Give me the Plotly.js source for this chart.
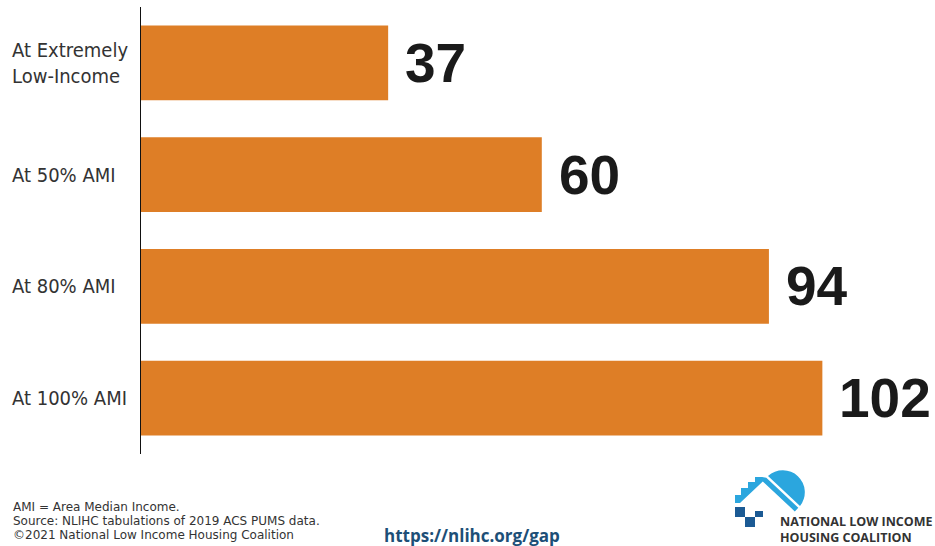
<!DOCTYPE html>
<html>
<head>
<meta charset="utf-8">
<script src="https://cdn.plot.ly/plotly-3.0.1.min.js"></script>
<style>html,body{margin:0;padding:0;background:#fff;}#chart{width:935px;height:546px;}</style>
</head>
<body>
<div id="chart"></div>
<script>
// Data
const categories = ["At Extremely<br>Low-Income", "At 50% AMI", "At 80% AMI", "At 100% AMI"];
const values = [37, 60, 94, 102];
const valueLabels = ["37", "60", "94", "102"];
const footnotes = ["AMI = Area Median Income.", "Source: NLIHC tabulations of 2019 ACS PUMS data.", "©2021 National Low Income Housing Coalition"];
const urlText = "https://nlihc.org/gap";
const orgLines = ["NATIONAL LOW INCOME", "HOUSING COALITION"];

// Layout geometry (pixels)
const W = 935, H = 546, ML = 141, MR = 0, MT = 7, MB = 92;
const PW = W - ML - MR, PH = H - MT - MB;
const px = x => (x - ML) / PW;
const py = y => (H - MB - y) / PH;

const barColor = "#DE7E26";
const labelFont = "'DejaVu Sans Condensed', 'Liberation Sans Narrow', 'Liberation Sans', Arial, sans-serif";

const trace = {
  type: "bar",
  orientation: "h",
  x: values,
  y: categories,
  marker: {color: barColor},
  width: 0.67,
  hoverinfo: "none"
};

const annotations = [];
categories.forEach((c, i) => {
  annotations.push({
    xref: "paper", yref: "y", x: 0, y: c, xanchor: "left", yanchor: "middle",
    xshift: -131, align: "left", showarrow: false, text: c,
    font: {family: labelFont, size: 20, color: "#333333"}
  });
  annotations.push({
    xref: "x", yref: "y", x: values[i], y: c, xanchor: "left", yanchor: "middle",
    xshift: 15, showarrow: false, text: "<b>" + valueLabels[i] + "</b>",
    font: {family: "'Liberation Sans', Arial, sans-serif", size: 55, color: "#1a1a1a"}
  });
});
const footY = [507, 521, 535];
footnotes.forEach((t, i) => {
  annotations.push({
    xref: "paper", yref: "paper", x: px(11), y: py(footY[i]), xanchor: "left", yanchor: "middle",
    showarrow: false, text: t, font: {family: "'DejaVu Sans', sans-serif", size: 12, color: "#333333"}
  });
});
annotations.push({
  xref: "paper", yref: "paper", x: px(382), y: py(535), xanchor: "left", yanchor: "middle",
  showarrow: false, text: "<b>" + urlText + "</b>",
  font: {family: "'Open Sans', sans-serif", size: 17, color: "#1D4F77"}
});
annotations.push({
  xref: "paper", yref: "paper", x: px(778), y: py(529.5), xanchor: "left", yanchor: "middle",
  align: "left", showarrow: false, text: "<b>" + orgLines.join("<br>") + "</b>",
  font: {family: "'Open Sans', sans-serif", size: 12.5, color: "#333333"}
});

// Logo as inline SVG (local coordinates, 84x68 box)
const logoSvg = '<svg xmlns="http://www.w3.org/2000/svg" width="84" height="68" viewBox="0 0 84 68">' +
  '<path d="M7,39 V31 H13 V24 H20 V18 H27 V13 H34 L38.3,13.8 L70.3,43.8 L66.8,47.4 L34.8,17.4 L12,39 Z" fill="#2BA6DE"/>' +
  '<path d="M40,12 A22,22 0 0 1 72,42 Z" fill="#2BA6DE"/>' +
  '<rect x="7" y="43" width="10" height="10" fill="#1B5A94"/>' +
  '<rect x="27" y="47" width="8" height="6" fill="#1B5A94"/>' +
  '<rect x="17" y="53" width="10" height="10" fill="#1B5A94"/>' +
  '</svg>';
const logoSrc = "data:image/svg+xml;charset=utf-8," + encodeURIComponent(logoSvg);

const layout = {
  width: W, height: H,
  margin: {l: ML, r: MR, t: MT, b: MB, pad: 0},
  paper_bgcolor: "#ffffff", plot_bgcolor: "#ffffff",
  showlegend: false,
  xaxis: {range: [0, PW / 6.68], showgrid: false, zeroline: false, showline: false, showticklabels: false, ticks: ""},
  yaxis: {autorange: "reversed", showgrid: false, zeroline: false, showline: true, linecolor: "#111111", linewidth: 1.5,
          showticklabels: false, ticks: ""},
  annotations: annotations,
  images: [{
    source: logoSrc, xref: "paper", yref: "paper",
    x: px(728), y: py(464), sizex: 84 / PW, sizey: 68 / PH,
    xanchor: "left", yanchor: "top", sizing: "stretch", layer: "above"
  }]
};

Plotly.newPlot("chart", [trace], layout, {staticPlot: true, displayModeBar: false});
</script>
</body>
</html>
